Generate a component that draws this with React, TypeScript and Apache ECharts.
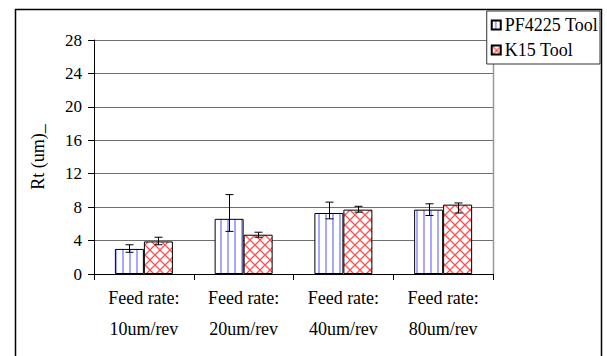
import React, { useEffect, useRef } from "react";
import * as echarts from "echarts";

const categories = ["Feed rate:\n10um/rev", "Feed rate:\n20um/rev", "Feed rate:\n40um/rev", "Feed rate:\n80um/rev"];
const seriesNames = ["PF4225 Tool", "K15 Tool"];
const pfValues = [3.0, 6.6, 7.3, 7.7];
const pfLow = [2.6, 5.1, 6.6, 7.0];
const pfHigh = [3.5, 9.5, 8.6, 8.4];
const k15Values = [3.9, 4.7, 7.7, 8.3];
const k15Low = [3.5, 4.4, 7.4, 7.3];
const k15High = [4.4, 5.0, 8.1, 8.5];
const yTicks = [0, 4, 8, 12, 16, 20, 24, 28];

const FONT = "Liberation Serif";
const BAR_W = 29;

function makePattern(kind: "stripe" | "cross"): HTMLCanvasElement {
  const c = document.createElement("canvas");
  if (kind === "stripe") {
    c.width = 7;
    c.height = 7;
    const g = c.getContext("2d")!;
    g.fillStyle = "#ffffff";
    g.fillRect(0, 0, 7, 7);
    g.fillStyle = "#a8a8ff";
    g.fillRect(3, 0, 2, 7);
  } else {
    c.width = 10;
    c.height = 10;
    const g = c.getContext("2d")!;
    g.fillStyle = "#ffffff";
    g.fillRect(0, 0, 10, 10);
    g.strokeStyle = "#ff5050";
    g.lineWidth = 1.3;
    g.beginPath();
    g.moveTo(-1, -1);
    g.lineTo(11, 11);
    g.moveTo(11, -1);
    g.lineTo(-1, 11);
    g.stroke();
  }
  return c;
}

export default function App() {
  const ref = useRef<HTMLDivElement>(null);
  useEffect(() => {
    if (!ref.current) return;
    const chart = echarts.init(ref.current, null, { renderer: "svg" });
    const stripe = { image: makePattern("stripe").toDataURL(), repeat: "repeat" };
    const cross = { image: makePattern("cross").toDataURL(), repeat: "repeat" };

    const errSeries = (low: number[], high: number[], offset: number) => ({
      type: "custom",
      silent: true,
      z: 10,
      data: low.map((l, i) => [i, l, high[i]]),
      renderItem: (params: any, api: any) => {
        const p1 = api.coord([api.value(0), api.value(1)]);
        const p2 = api.coord([api.value(0), api.value(2)]);
        const x = Math.round(p1[0] + offset) + 0.5;
        const style = { stroke: "#000", lineWidth: 1 };
        return {
          type: "group",
          children: [
            { type: "line", shape: { x1: x, y1: p1[1], x2: x, y2: p2[1] }, style },
            { type: "line", shape: { x1: x - 4, y1: p1[1], x2: x + 4, y2: p1[1] }, style },
            { type: "line", shape: { x1: x - 4, y1: p2[1], x2: x + 4, y2: p2[1] }, style },
          ],
        };
      },
    });

    chart.setOption({
      animation: false,
      backgroundColor: "#ffffff",
      textStyle: { fontFamily: FONT },
      grid: { left: 94, top: 40, width: 399, height: 234, show: false },
      graphic: [
        {
          type: "rect",
          shape: { x: 15.5, y: 9.5, width: 586, height: 360 },
          style: { fill: "none", stroke: "#000", lineWidth: 1.5 },
          z: -1,
        },
        {
          type: "line",
          shape: { x1: 493.5, y1: 40, x2: 493.5, y2: 274 },
          style: { stroke: "#999", lineWidth: 1.5 },
        },
      ],
      legend: {
        orient: "vertical",
        right: 7,
        top: 11,
        itemWidth: 9,
        itemHeight: 9,
        itemGap: 7,
        padding: [5, 2, 5, 4],
        borderColor: "#333",
        borderWidth: 1,
        backgroundColor: "#fff",
        textStyle: { fontFamily: FONT, fontSize: 18, color: "#000", padding: [0, 0, 0, -1] },
        data: seriesNames.map((n) => ({ name: n, icon: "rect" })),
      },
      xAxis: {
        type: "category",
        data: categories,
        axisLine: { lineStyle: { color: "#000", width: 1 } },
        axisTick: { show: true, length: 6, lineStyle: { color: "#000" } },
        axisLabel: { fontFamily: FONT, fontSize: 18, color: "#000", lineHeight: 31, margin: 8 },
      },
      yAxis: {
        type: "value",
        min: 0,
        max: 28,
        interval: 4,
        name: "Rt (um)_",
        nameLocation: "middle",
        nameGap: 47,
        nameTextStyle: { fontFamily: FONT, fontSize: 18, color: "#000" },
        axisLine: { show: true, lineStyle: { color: "#000" } },
        axisTick: { show: true, length: 6, lineStyle: { color: "#000" } },
        axisLabel: {
          fontFamily: FONT,
          fontSize: 17,
          color: "#000",
          margin: 12,
          formatter: (v: number) => (yTicks.includes(v) ? String(v) : ""),
        },
        splitLine: { show: true, lineStyle: { color: "#707070", width: 1 } },
      },
      series: [
        {
          name: seriesNames[0],
          type: "bar",
          data: pfValues,
          barWidth: BAR_W,
          barGap: "0%",
          itemStyle: { color: stripe, borderColor: "#000", borderWidth: 1 },
        },
        {
          name: seriesNames[1],
          type: "bar",
          data: k15Values,
          barWidth: BAR_W,
          barGap: "0%",
          itemStyle: { color: cross, borderColor: "#000", borderWidth: 1 },
        },
        errSeries(pfLow, pfHigh, -BAR_W / 2),
        errSeries(k15Low, k15High, BAR_W / 2),
      ],
    });
    return () => chart.dispose();
  }, []);
  return <div ref={ref} style={{ width: 607, height: 356, position: "absolute", left: 0, top: 0 }} />;
}
